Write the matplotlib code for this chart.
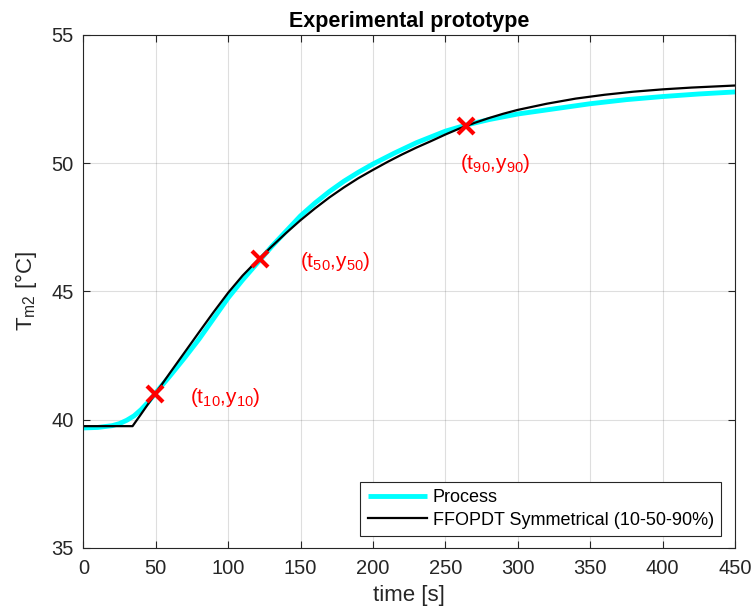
import numpy as np
import matplotlib.pyplot as plt

plt.rcParams['font.family'] = ['Liberation Sans', 'DejaVu Sans']
plt.rcParams['mathtext.fontset'] = 'custom'
plt.rcParams['mathtext.rm'] = 'Liberation Sans'
plt.rcParams['mathtext.it'] = 'Liberation Sans'
plt.rcParams['mathtext.default'] = 'regular'

t_proc = [0, 10, 20, 25, 30, 35, 40, 45, 50, 60, 70, 80, 90, 100, 110, 120, 130,
          140, 150, 160, 170, 180, 190, 200, 215, 230, 250, 265, 280, 300, 325,
          350, 375, 400, 425, 450]
y_proc = [39.68, 39.70, 39.77, 39.85, 39.98, 40.15, 40.40, 40.70, 41.05, 41.72,
          42.42, 43.15, 43.95, 44.75, 45.45, 46.10, 46.75, 47.35, 47.95, 48.45,
          48.90, 49.30, 49.65, 49.97, 50.40, 50.80, 51.25, 51.50, 51.70, 51.92,
          52.12, 52.32, 52.48, 52.60, 52.70, 52.78]

# FFOPDT model response
t_model = [0, 34, 40, 50, 60, 70, 80, 90, 100, 110, 120, 130, 140, 150, 160, 170,
           180, 190, 200, 210, 220, 230, 240, 250, 260, 270, 280, 290, 300, 320,
           340, 360, 380, 400, 420, 450]
y_model = [39.75, 39.75, 40.23, 41.04, 41.84, 42.63, 43.42, 44.20, 44.95, 45.62,
           46.20, 46.75, 47.28, 47.78, 48.24, 48.67, 49.06, 49.42, 49.74, 50.05,
           50.34, 50.61, 50.86, 51.12, 51.36, 51.57, 51.76, 51.93, 52.08, 52.32,
           52.52, 52.67, 52.79, 52.88, 52.95, 53.03]

# characteristic points
t_pts = [49.6, 122, 264.5]
y_pts = [41.02, 46.25, 51.47]
pt_labels = ['(t$_{10}$,y$_{10}$)', '(t$_{50}$,y$_{50}$)', '(t$_{90}$,y$_{90}$)']
lbl_x = [73.5, 149.5, 260]
lbl_y = [40.85, 46.15, 50.0]

fig = plt.figure(figsize=(7.54, 6.16), dpi=100)
ax = fig.add_axes([0.1105, 0.1104, 0.8643, 0.8328])

ax.plot(t_proc, y_proc, color='cyan', lw=3.5, label='Process', solid_capstyle='butt')
ax.plot(t_model, y_model, color='black', lw=1.6, label='FFOPDT Symmetrical (10-50-90%)')
ax.plot(t_pts, y_pts, 'x', color='red', ms=11, mew=3, zorder=5)
for i in range(len(pt_labels)):
    ax.text(lbl_x[i], lbl_y[i], pt_labels[i], color='red', fontsize=15, va='center', ha='left')

ax.set_xlim(0, 450)
ax.set_ylim(35, 55)
ax.set_xticks(np.arange(0, 451, 50))
ax.set_yticks(np.arange(35, 56, 5))
ax.grid(True, color='#262626', alpha=0.15, lw=0.8)
ax.tick_params(direction='in', top=True, right=True, labelsize=14.5, colors='#262626', length=5)
ax.tick_params(axis='x', pad=8)
ax.tick_params(axis='y', pad=7)
for s in ax.spines.values():
    s.set_color('#262626')
    s.set_linewidth(0.8)

ax.set_xlabel('time [s]', fontsize=16, color='#262626', labelpad=5)
ax.set_ylabel('T$_{m2}$ [°C]', fontsize=16, color='#262626', labelpad=9)
ax.set_title('Experimental prototype', fontsize=15.5, fontweight='bold', pad=6)

leg = ax.legend(loc='lower right', bbox_to_anchor=(0.9785, 0.0234), borderaxespad=0,
                fontsize=13, handlelength=3.3, fancybox=False, framealpha=1,
                edgecolor='#262626', borderpad=0.4, labelspacing=0.3, handletextpad=0.3)
leg.get_frame().set_linewidth(0.8)

plt.savefig('out.png', dpi=100)
